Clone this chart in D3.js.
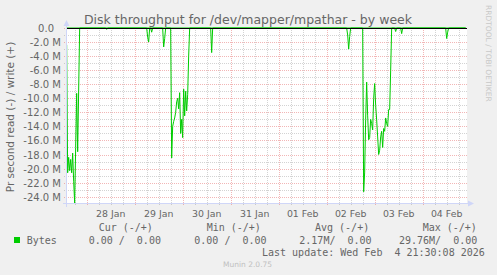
<!DOCTYPE html>
<html>
<head>
<meta charset="utf-8">
<script src="https://cdn.jsdelivr.net/npm/d3@7"></script>
<style>
body { margin: 0; background: #f0f0f0; }
svg text { font-family: "DejaVu Sans", sans-serif; fill: #666; }
svg text.mono { font-family: "DejaVu Sans Mono", monospace; white-space: pre; }
</style>
</head>
<body>
<svg width="497" height="275"></svg>
<script>
// read throughput (MB/s, drawn below zero), 30 min averages
var readTimes = [
  "2026-01-27 14:00","2026-01-27 14:30","2026-01-27 15:00","2026-01-27 15:30","2026-01-27 16:00",
  "2026-01-27 16:30","2026-01-27 17:00","2026-01-27 17:30","2026-01-27 18:00","2026-01-27 18:30",
  "2026-01-27 19:00","2026-01-27 19:30","2026-01-27 20:30",
  "2026-01-28 09:30","2026-01-28 10:00","2026-01-28 10:30",
  "2026-01-29 06:00","2026-01-29 06:30","2026-01-29 07:00","2026-01-29 07:30",
  "2026-01-29 08:00","2026-01-29 08:30","2026-01-29 09:00",
  "2026-01-29 14:00","2026-01-29 14:30","2026-01-29 15:00","2026-01-29 15:30",
  "2026-01-29 18:00","2026-01-29 18:30","2026-01-29 19:00","2026-01-29 19:30","2026-01-29 20:00",
  "2026-01-29 20:30","2026-01-29 21:00","2026-01-29 21:30","2026-01-29 22:00","2026-01-29 22:30",
  "2026-01-29 23:00","2026-01-29 23:30","2026-01-30 00:00","2026-01-30 00:30","2026-01-30 01:00",
  "2026-01-30 01:30","2026-01-30 02:00","2026-01-30 02:30","2026-01-30 03:00","2026-01-30 03:30",
  "2026-01-30 14:00","2026-01-30 14:30","2026-01-30 15:00",
  "2026-02-02 10:00","2026-02-02 10:30","2026-02-02 11:00","2026-02-02 11:30","2026-02-02 12:00",
  "2026-02-02 18:00","2026-02-02 18:30","2026-02-02 19:00","2026-02-02 19:30","2026-02-02 20:00",
  "2026-02-02 20:30","2026-02-02 21:00","2026-02-02 21:30","2026-02-02 22:00","2026-02-02 22:30",
  "2026-02-02 23:00","2026-02-02 23:30","2026-02-03 00:00","2026-02-03 00:30","2026-02-03 01:00",
  "2026-02-03 01:30","2026-02-03 02:00","2026-02-03 02:30","2026-02-03 03:00","2026-02-03 03:30",
  "2026-02-03 04:00","2026-02-03 04:30","2026-02-03 05:00","2026-02-03 05:30","2026-02-03 06:00",
  "2026-02-03 06:30","2026-02-03 07:00","2026-02-03 07:30","2026-02-03 08:00","2026-02-03 08:30",
  "2026-02-03 10:00","2026-02-03 10:30","2026-02-03 11:00",
  "2026-02-03 13:00","2026-02-03 13:30","2026-02-03 14:00",
  "2026-02-04 11:30","2026-02-04 12:00","2026-02-04 12:30","2026-02-04 13:00","2026-02-04 21:30"
];
var readValues = [
  -2.4, -20.6, -18.4, -20.3, -18.7,
  -20.6, -17.8, -21.8, -24.9, -17.0,
  -9.3, -17.6, 0,
  0, -0.2, 0,
  0, -1.3, -2.0, 0,
  0, -0.6, 0,
  0, -2.7, -1.5, 0,
  0, -18.5, -14.0, -13.3, -12.8,
  -12.0, -10.5, -10.0, -11.5, -9.2,
  -15.0, -13.0, -15.6, -8.7, -12.5,
  -9.0, -11.8, -9.5, -4.0, 0,
  0, -3.5, 0,
  0, -1.0, -3.0, -1.2, 0,
  0, -23.3, -20.5, -13.0, -7.7,
  -12.5, -15.9, -15.6, -13.0, -13.6,
  -14.5, -10.0, -7.9, -11.0, -13.1,
  -15.5, -18.0, -17.4, -15.5, -14.7,
  -17.0, -14.3, -14.7, -12.8, -13.6,
  -14.0, -11.6, -11.6, -6.0, 0,
  0, -0.5, 0,
  0, -0.8, 0,
  0, -1.5, -0.6, 0, 0
];
// write throughput stays at zero all week
var writeTimes = ["2026-01-27 14:00", "2026-02-04 21:30"];
var writeValues = [0, 0];

var yTicks = [0, -2, -4, -6, -8, -10, -12, -14, -16, -18, -20, -22, -24];
var dayLabels = ["28 Jan", "29 Jan", "30 Jan", "31 Jan", "01 Feb", "02 Feb", "03 Feb", "04 Feb"];
var legendHeads = ["Cur (-/+)", "Min (-/+)", "Avg (-/+)", "Max (-/+)"];
var legendVals = ["0.00 /  0.00", "0.00 /  0.00", "2.17M/  0.00", "29.76M/  0.00"];

var parse = d3.timeParse("%Y-%m-%d %H:%M");
var svg = d3.select("svg");

var x = d3.scaleTime()
    .domain([parse("2026-01-27 14:10"), parse("2026-02-04 22:10")])
    .range([67, 467]);
var y = d3.scaleLinear()
    .domain([d3.min(readValues), 0])
    .range([203, 28]);

svg.append("rect").attr("x", 67).attr("y", 28).attr("width", 400).attr("height", 175).attr("fill", "#fff");

// grid
var minorY = d3.range(0, -25, -1).filter(v => v % 2 != 0);
svg.append("g").selectAll("line").data(minorY).join("line")
    .attr("x1", 64).attr("x2", 467)
    .attr("y1", d => Math.round(y(d)) + 0.5).attr("y2", d => Math.round(y(d)) + 0.5)
    .attr("stroke", "rgba(128,128,128,0.35)").attr("stroke-dasharray", "1,1");

var allHours = d3.timeHour.every(6).range(x.domain()[0], x.domain()[1]);
var minorX = allHours.filter(d => d.getHours() != 0);
var majorX = allHours.filter(d => d.getHours() == 0);

svg.append("g").selectAll("line").data(minorX).join("line")
    .attr("x1", d => Math.round(x(d)) + 0.5).attr("x2", d => Math.round(x(d)) + 0.5)
    .attr("y1", 28).attr("y2", 205)
    .attr("stroke", "rgba(128,128,128,0.35)").attr("stroke-dasharray", "1,1");

svg.append("g").selectAll("line").data(yTicks).join("line")
    .attr("x1", 64).attr("x2", 467)
    .attr("y1", d => Math.round(y(d)) + 0.5).attr("y2", d => Math.round(y(d)) + 0.5)
    .attr("stroke", "rgba(230,110,110,0.5)").attr("stroke-dasharray", "1,1");

svg.append("g").selectAll("line").data(majorX).join("line")
    .attr("x1", d => Math.round(x(d)) + 0.5).attr("x2", d => Math.round(x(d)) + 0.5)
    .attr("y1", 28).attr("y2", 205)
    .attr("stroke", "rgba(230,110,110,0.5)").attr("stroke-dasharray", "1,1");

// data
svg.append("clipPath").attr("id", "clip")
  .append("rect").attr("x", 67).attr("y", 27).attr("width", 400).attr("height", 177);

var line = d3.line().x(d => x(d[0])).y(d => y(d[1]));
var readData = readTimes.map((t, i) => [parse(t), readValues[i]]);
var writeData = writeTimes.map((t, i) => [parse(t), writeValues[i]]);

svg.append("path").datum(readData).attr("clip-path", "url(#clip)")
    .attr("d", line).attr("fill", "none").attr("stroke", "#00cc00").attr("stroke-width", 1);
svg.append("path").datum(writeData).attr("clip-path", "url(#clip)")
    .attr("d", line).attr("fill", "none").attr("stroke", "#00cc00").attr("stroke-width", 1);

// zero rule
svg.append("line").attr("x1", 67).attr("x2", 467)
    .attr("y1", y(0) + 0.5).attr("y2", y(0) + 0.5).attr("stroke", "#000");

// axes
var axisCol = "#cfd6f8";
svg.append("line").attr("x1", 63).attr("x2", 469).attr("y1", 203.5).attr("y2", 203.5).attr("stroke", axisCol);
svg.append("line").attr("x1", 66.5).attr("x2", 66.5).attr("y1", 207).attr("y2", 25).attr("stroke", axisCol);
svg.append("path").attr("d", "M468,200.5L474,203.5L468,206.5Z").attr("fill", axisCol);
svg.append("path").attr("d", "M63.5,26L66.5,20L69.5,26Z").attr("fill", axisCol);

// y labels
svg.append("g").selectAll("text").data(yTicks).join("text")
    .attr("x", d => d == 0 ? 54 : 61)
    .attr("y", d => y(d) + 4)
    .attr("text-anchor", "end")
    .attr("font-size", 10)
    .text(d => d == 0 ? "0.0" : d3.format(".1f")(d).replace("−", "-") + " M");

// x labels at noon
svg.append("g").selectAll("text").data(majorX).join("text")
    .attr("x", d => x(d3.timeHour.offset(d, 12)))
    .attr("y", 217)
    .attr("text-anchor", "middle")
    .attr("font-size", 9.4)
    .text((d, i) => dayLabels[i]);

// titles
svg.append("text").attr("x", 248).attr("y", 23.5).attr("text-anchor", "middle")
    .attr("font-size", 12.5).text("Disk throughput for /dev/mapper/mpathar - by week");
svg.append("text").attr("transform", "translate(14,117) rotate(-90)").attr("text-anchor", "middle")
    .attr("font-size", 10.5).text("Pr second read (-) / write (+)");
svg.append("text").attr("transform", "translate(486,5) rotate(90)")
    .attr("font-size", 7.5).style("fill", "#c8c8c8").text("RRDTOOL / TOBI OETIKER");

// legend
var colX = [98.7, 206.7, 315, 422.7];
var valX = [88.7, 194.3, 299.3, 399];
svg.append("g").selectAll("text").data(legendHeads).join("text")
    .attr("class", "mono").attr("x", (d, i) => colX[i]).attr("y", 230.5)
    .attr("font-size", 10).text(d => d);
svg.append("rect").attr("x", 14).attr("y", 237).attr("width", 6).attr("height", 6).attr("fill", "#00cc00");
svg.append("text").attr("class", "mono").attr("x", 26.7).attr("y", 243.5).attr("font-size", 10).text("Bytes");
svg.append("g").selectAll("text").data(legendVals).join("text")
    .attr("class", "mono").attr("x", (d, i) => valX[i]).attr("y", 243.5)
    .attr("font-size", 10).text(d => d);
svg.append("text").attr("class", "mono").attr("x", 262).attr("y", 255.5).attr("font-size", 10)
    .text("Last update: Wed Feb  4 21:30:08 2026");
svg.append("text").attr("x", 223).attr("y", 266.5).attr("font-size", 7.5).style("fill", "#c0c0c0")
    .text("Munin 2.0.75");
</script>
</body>
</html>
